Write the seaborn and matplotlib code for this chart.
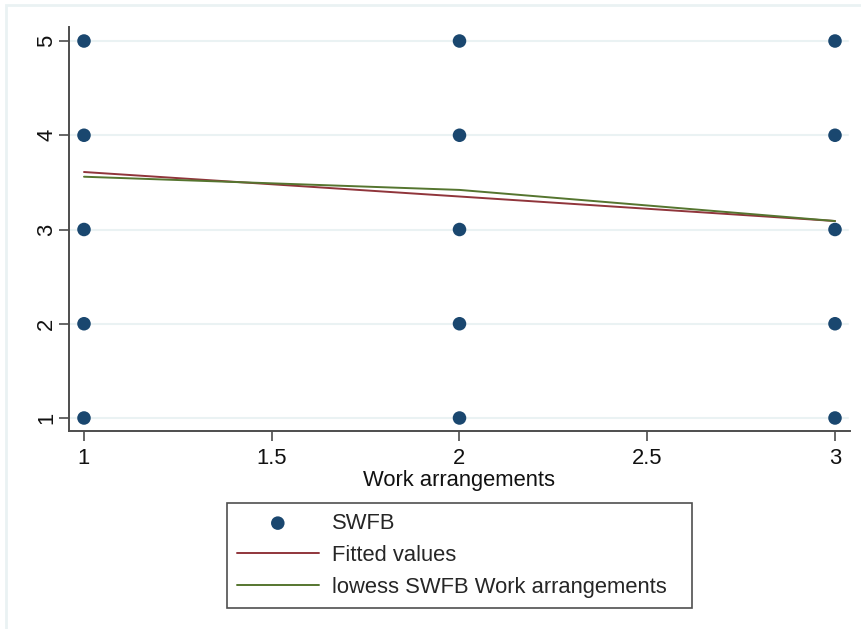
import numpy as np
import pandas as pd
import matplotlib
matplotlib.use("Agg")
import matplotlib.pyplot as plt
from matplotlib.patches import Rectangle
import seaborn as sns

# Observed combinations of work arrangement and SWFB score
work_arrangements = [1, 2, 3]
swfb_levels = [1, 2, 3, 4, 5]

# Linear fit and lowess smooth evaluated at each work arrangement
fitted_values = [3.61, 3.35, 3.09]
lowess_values = [3.56, 3.42, 3.09]

x_ticks = [1, 1.5, 2, 2.5, 3]
x_tick_labels = ["1", "1.5", "2", "2.5", "3"]
y_ticks = [1, 2, 3, 4, 5]

points = pd.DataFrame(
    [(w, s) for w in work_arrangements for s in swfb_levels],
    columns=["Work arrangements", "SWFB"],
)
fit_df = pd.DataFrame({"x": work_arrangements, "y": fitted_values})
low_df = pd.DataFrame({"x": work_arrangements, "y": lowess_values})

sns.set_theme(style="white")
plt.rcParams["font.family"] = ["Liberation Sans", "DejaVu Sans"]

NAVY = "#1a476f"
MAROON = "#90353b"
GREEN = "#55752f"
GRID = "#eaf2f3"
AXIS = "#4d4d4d"
TEXT = "#111111"
FS = 15.8

fig = plt.figure(figsize=(8.62, 6.29), dpi=100)
W, H = 862, 629
ax = fig.add_axes([69 / W, 1 - 431 / H, (850 - 69) / W, (431 - 27) / H])

# Light frame around the graph region
fig.patches.append(Rectangle((6 / W, -0.1), 1.2, (1 - 5 / H) + 0.1,
                             transform=fig.transFigure, fill=False,
                             edgecolor=GRID, linewidth=2, zorder=0))

for yv in y_ticks:
    ax.axhline(yv, color=GRID, linewidth=1.5, zorder=0, xmax=(848 - 69) / (850 - 69))

sns.scatterplot(data=points, x="Work arrangements", y="SWFB", ax=ax,
                color=NAVY, s=95, edgecolor="none", label="SWFB", zorder=3)
sns.lineplot(data=fit_df, x="x", y="y", ax=ax, color=MAROON, linewidth=1.4,
             label="Fitted values", zorder=2)
sns.lineplot(data=low_df, x="x", y="y", ax=ax, color=GREEN, linewidth=1.4,
             label="lowess SWFB Work arrangements", zorder=2)

ax.set_xlim(1 - 15 / 375.5, 1 + (850 - 84) / 375.5)
ax.set_ylim(1 - 13 / 94.2, 5 + 14 / 94.2)

ax.set_xticks(x_ticks)
ax.set_xticklabels(x_tick_labels)
ax.set_yticks(y_ticks)
ax.set_yticklabels([str(v) for v in y_ticks], rotation=90, va="center")

for side in ["top", "right"]:
    ax.spines[side].set_visible(False)
for side in ["left", "bottom"]:
    ax.spines[side].set_color(AXIS)
    ax.spines[side].set_linewidth(1.4)

ax.tick_params(axis="both", which="major", direction="out", length=7,
               width=1.2, color=AXIS, labelsize=FS, labelcolor=TEXT,
               left=True, bottom=True)
ax.tick_params(axis="x", pad=5)
ax.tick_params(axis="y", pad=1.5)
ax.set_xlabel("Work arrangements", fontsize=FS, color=TEXT, labelpad=1)
ax.set_ylabel("")
ax.set_facecolor("white")

handles, labels = ax.get_legend_handles_labels()
ax.get_legend().remove()
leg = fig.legend(handles, labels, loc="upper left",
                 bbox_to_anchor=(227 / W, 1 - 605 / H, 465 / W, 102 / H),
                 bbox_transform=fig.transFigure, mode="expand",
                 frameon=True, fancybox=False, fontsize=FS,
                 handlelength=3.73, handletextpad=0.6, labelspacing=0.5,
                 borderpad=0.45, borderaxespad=0, markerscale=1.0)
leg.get_frame().set_edgecolor("#222222")
leg.get_frame().set_linewidth(1.2)

fig.savefig("out.png", dpi=100, facecolor="white")
